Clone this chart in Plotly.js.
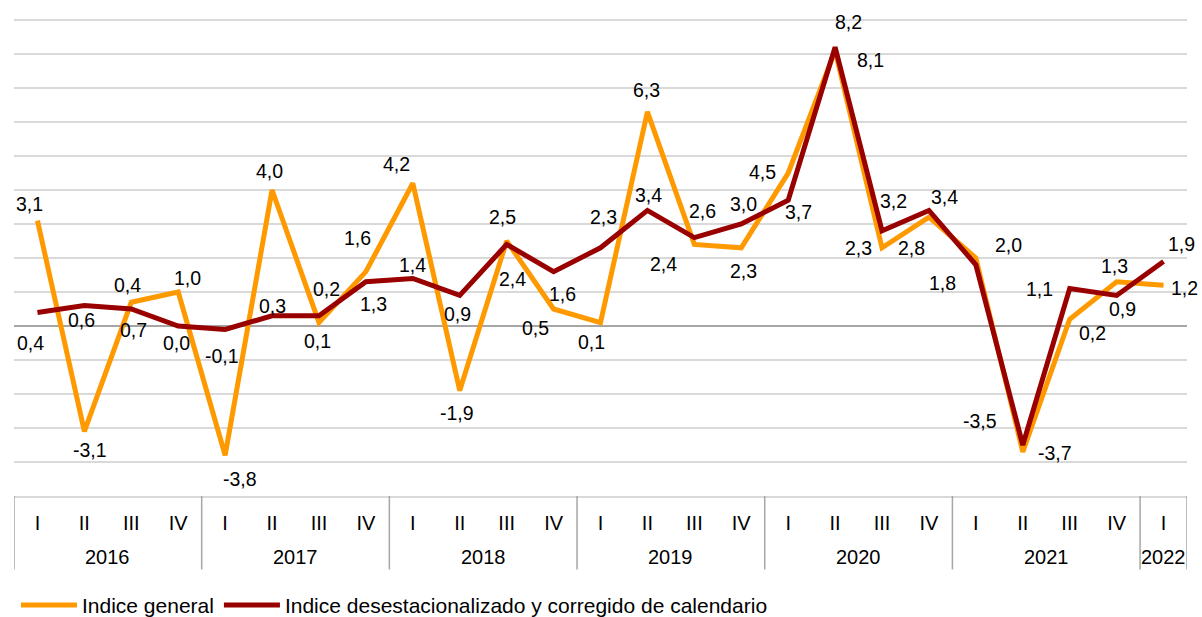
<!DOCTYPE html>
<html>
<head>
<meta charset="utf-8">
<script src="https://cdn.plot.ly/plotly-3.0.1.min.js"></script>
<style>
html,body{margin:0;padding:0;background:#fff;}
#chart{width:1202px;height:617px;}
</style>
</head>
<body>
<div id="chart"></div>
<script>
// ---- data ----
const years = ['2016','2016','2016','2016','2017','2017','2017','2017','2018','2018','2018','2018',
               '2019','2019','2019','2019','2020','2020','2020','2020','2021','2021','2021','2021','2022'];
const quarters = ['I','II','III','IV','I','II','III','IV','I','II','III','IV',
                  'I','II','III','IV','I','II','III','IV','I','II','III','IV','I'];

const generalValues  = [3.1,-3.1,0.7,1.0,-3.8,4.0,0.1,1.6,4.2,-1.9,2.5,0.5,0.1,6.3,2.4,2.3,4.5,8.1,2.3,3.2,2.0,-3.7,0.2,1.3,1.2];
const adjustedValues = [0.4,0.6,0.5,0.0,-0.1,0.3,0.3,1.3,1.4,0.9,2.4,1.6,2.3,3.4,2.6,3.0,3.7,8.2,2.8,3.4,1.8,-3.5,1.1,0.9,1.9];

const generalLabels  = ['3,1','-3,1','0,4','1,0','-3,8','4,0','0,1','1,6','4,2','-1,9','2,5','0,5','0,1','6,3','2,4','2,3','4,5','8,1','2,3','2,8','2,0','-3,7','0,2','1,3','1,2'];
const adjustedLabels = ['0,4','0,6','0,7','0,0','-0,1','0,3','0,2','1,3','1,4','0,9','2,4','1,6','2,3','3,4','2,6','3,0','3,7','8,2','3,2','3,4','1,8','-3,5','1,1','0,9','1,9'];

const seriesNames = ['Indice general','Indice desestacionalizado y corregido de calendario'];

// ---- label offsets in px from their point (style, not data) ----
const generalDX = [-8,6,-4,9,15,-3,-1,-8,-16,-3,-4,-18,-9,-1,-31,2,-26,35,-24,-17,33,32,23,-2,21];
const generalDY = [-17,19,-17,-14,24,-19,18,-34,-19,22,-24,19,19,-22,20,23,-1,9,0,31,-13,1,14,-16,3];
const adjustedDX = [-7,-3,2,-2,-3,0,8,8,0,-2,6,9,3,1,8,2,10,13,11,16,-33,-43,-30,6,18];
const adjustedDY = [31,14,21,17,27,-10,-27,22,-13,19,35,22,-31,-15,-27,-20,12,-25,-30,-13,18,-24,0,14,-17];

const FONT = 'Liberation Sans, Arial, sans-serif';
const xIdx = quarters.map((q, i) => i);

const traces = [
  {type:'scatter', mode:'lines', x:xIdx, y:generalValues, name:seriesNames[0],
   line:{color:'#FF9900', width:5}, hoverinfo:'skip'},
  {type:'scatter', mode:'lines', x:xIdx, y:adjustedValues, name:seriesNames[1],
   line:{color:'#990000', width:5}, hoverinfo:'skip'}
];

const annotations = [];
function addLabels(vals, labels, dx, dy) {
  vals.forEach((v, i) => {
    annotations.push({x:xIdx[i], y:v, xref:'x', yref:'y', text:labels[i], showarrow:false,
      xanchor:'center', yanchor:'middle', xshift:dx[i], yshift:-dy[i],
      font:{family:FONT, size:19.5, color:'#000'}});
  });
}
addLabels(generalValues, generalLabels, generalDX, generalDY);
addLabels(adjustedValues, adjustedLabels, adjustedDX, adjustedDY);

// year groups -> outer category labels and dividers
const shapes = [];
const groups = [];
years.forEach((y, i) => {
  if (!groups.length || groups[groups.length-1].year !== y) groups.push({year:y, start:i, end:i});
  else groups[groups.length-1].end = i;
});
groups.forEach(g => {
  annotations.push({x:(g.start+g.end)/2, y:-0.128, xref:'x', yref:'paper', text:g.year, showarrow:false,
    xanchor:'center', yanchor:'middle', font:{family:FONT, size:20, color:'#000'}});
  shapes.push({type:'line', xref:'x', yref:'paper', x0:g.start-0.5, x1:g.start-0.5, y0:0, y1:-0.154,
    line:{color:'#a6a6a6', width:1.5}});
});
const lastG = groups[groups.length-1];
shapes.push({type:'line', xref:'x', yref:'paper', x0:lastG.end+0.5, x1:lastG.end+0.5, y0:0, y1:-0.154,
  line:{color:'#a6a6a6', width:1.5}});

const layout = {
  width:1202, height:617,
  margin:{l:14, r:15, t:19, b:121},
  paper_bgcolor:'#fff', plot_bgcolor:'#fff',
  font:{family:FONT, size:20, color:'#000'},
  showlegend:true,
  legend:{orientation:'h', xref:'container', yref:'container', x:0.0133, xanchor:'left', y:0.019, yanchor:'middle',
          itemwidth:56, font:{family:FONT, size:21, color:'#000'}, bgcolor:'rgba(0,0,0,0)'},
  annotations:annotations,
  shapes:shapes,
  xaxis:{type:'linear', range:[-0.5, quarters.length-0.5], tickvals:xIdx, ticktext:quarters,
         showgrid:false, zeroline:false, showline:true, linecolor:'#d9d9d9', linewidth:1.5,
         ticks:'', ticklabelstandoff:8, tickfont:{family:FONT, size:20, color:'#000'},
         automargin:false, fixedrange:true},
  yaxis:{range:[-5, 9.03], dtick:1, tick0:0, showticklabels:false, showgrid:true,
         gridcolor:'#d9d9d9', gridwidth:1.5, zeroline:true, zerolinecolor:'#a6a6a6', zerolinewidth:1.5,
         showline:false, ticks:'', automargin:false, fixedrange:true}
};

Plotly.newPlot('chart', traces, layout, {displayModeBar:false, staticPlot:true});
</script>
</body>
</html>
